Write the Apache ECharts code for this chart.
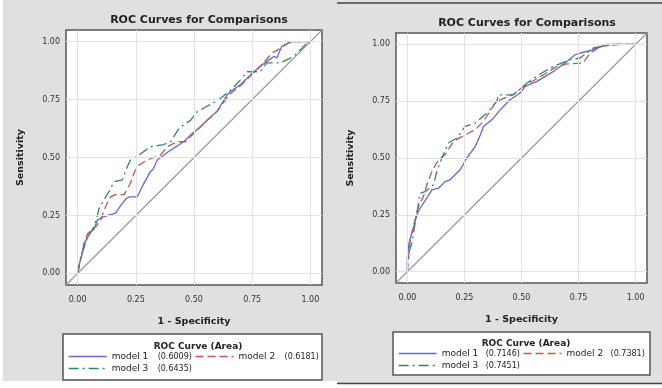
<!DOCTYPE html>
<html><head><meta charset="utf-8">
<script src="https://cdn.jsdelivr.net/npm/echarts@6/dist/echarts.min.js"></script>
<style>html,body{margin:0;padding:0;background:#fff}#c{width:662px;height:388px}</style>
</head><body><div id="c"></div>
<script>
const tickValues = [0, 0.25, 0.5, 0.75, 1];
const refLine = [[-0.05, -0.05], [1.05, 1.05]];
const modelNames = ['model 1', 'model 2', 'model 3'];
const leftAreas = ['(0.6009)', '(0.6181)', '(0.6435)'];
const rightAreas = ['(0.7146)', '(0.7381)', '(0.7451)'];

const leftModel1 = [[0,0],[0.01,0.05],[0.02,0.09],[0.027,0.13],[0.04,0.15],[0.056,0.18],[0.07,0.19],[0.085,0.23],[0.1,0.24],[0.13,0.25],[0.163,0.26],[0.19,0.3],[0.206,0.32],[0.22,0.33],[0.256,0.33],[0.28,0.38],[0.313,0.44],[0.325,0.45],[0.342,0.489],[0.4,0.532],[0.456,0.568],[0.485,0.597],[0.528,0.633],[0.557,0.662],[0.6,0.7],[0.642,0.77],[0.657,0.785],[0.7,0.815],[0.757,0.87],[0.8,0.905],[0.843,0.936],[0.857,0.93],[0.864,0.95],[0.878,0.98],[0.92,1.0],[1,1]];
const leftModel2 = [[0,0],[0.015,0.07],[0.03,0.12],[0.042,0.17],[0.06,0.19],[0.077,0.2],[0.1,0.23],[0.106,0.25],[0.125,0.3],[0.142,0.33],[0.16,0.34],[0.2,0.34],[0.227,0.39],[0.245,0.44],[0.263,0.467],[0.299,0.489],[0.356,0.51],[0.385,0.547],[0.428,0.568],[0.464,0.568],[0.485,0.59],[0.53,0.635],[0.6,0.7],[0.65,0.77],[0.7,0.81],[0.76,0.87],[0.8,0.91],[0.836,0.951],[0.853,0.96],[0.914,1.0],[1,1]];
const leftModel3 = [[0,0],[0.013,0.07],[0.04,0.15],[0.07,0.2],[0.085,0.25],[0.092,0.28],[0.113,0.316],[0.142,0.367],[0.156,0.395],[0.192,0.403],[0.213,0.46],[0.227,0.489],[0.263,0.51],[0.313,0.547],[0.37,0.556],[0.4,0.568],[0.435,0.626],[0.485,0.66],[0.514,0.698],[0.6,0.745],[0.657,0.79],[0.7,0.835],[0.728,0.87],[0.785,0.87],[0.8,0.893],[0.814,0.908],[0.87,0.908],[0.9,0.922],[0.928,0.936],[0.986,0.994],[1,1]];

const rightModel1 = [[0,0],[0,0.066],[0.007,0.125],[0.019,0.169],[0.026,0.19],[0.041,0.25],[0.056,0.28],[0.085,0.323],[0.107,0.36],[0.136,0.367],[0.165,0.396],[0.187,0.404],[0.231,0.448],[0.26,0.5],[0.297,0.55],[0.319,0.6],[0.333,0.639],[0.37,0.668],[0.407,0.712],[0.45,0.756],[0.494,0.786],[0.516,0.815],[0.568,0.837],[0.64,0.881],[0.699,0.925],[0.736,0.955],[0.758,0.962],[0.816,0.977],[0.874,1],[1,1]];
const rightModel2 = [[0,0],[0.005,0.06],[0.012,0.14],[0.026,0.198],[0.048,0.286],[0.07,0.33],[0.085,0.382],[0.107,0.44],[0.136,0.492],[0.165,0.514],[0.202,0.573],[0.253,0.602],[0.297,0.624],[0.333,0.661],[0.385,0.742],[0.407,0.756],[0.465,0.78],[0.509,0.815],[0.596,0.866],[0.655,0.903],[0.699,0.914],[0.77,0.918],[0.801,0.962],[0.845,0.99],[0.904,1],[1,1]];
const rightModel3 = [[0,0],[0,0.062],[0.019,0.125],[0.034,0.213],[0.056,0.345],[0.078,0.352],[0.114,0.382],[0.129,0.44],[0.151,0.5],[0.18,0.566],[0.217,0.588],[0.253,0.639],[0.297,0.654],[0.348,0.698],[0.392,0.749],[0.399,0.778],[0.465,0.778],[0.524,0.83],[0.589,0.874],[0.64,0.903],[0.714,0.933],[0.757,0.94],[0.816,0.984],[0.874,0.995],[0.947,1],[1,1]];

const colors = ['#6666dd', '#c45656', '#2e8676'];
const dashes = ['solid', [8, 4], [10, 4, 2, 4]];
const FONT = 'DejaVu Sans';

function makeAxis(gi, isX) {
  return {
    type: 'value', gridIndex: gi, min: -0.05, max: 1.05,
    name: isX ? '1 - Specificity' : 'Sensitivity',
    nameLocation: 'middle', nameGap: isX ? 32 : 40,
    nameTextStyle: { fontFamily: FONT, fontWeight: 'bold', fontSize: 9.5, color: '#222' },
    axisLine: { show: false },
    axisTick: { show: true, length: 4, inside: false, customValues: tickValues, lineStyle: { color: '#555', width: 1 } },
    axisLabel: { customValues: tickValues, fontFamily: FONT, fontSize: 8, color: '#333', margin: isX ? 11 : 6,
      formatter: v => Number(v).toFixed(2) },
    splitLine: { show: false }
  };
}

const series = [];
function addPanel(gi, data, prefix) {
  const gridLines = [];
  tickValues.forEach(v => { gridLines.push({ xAxis: v }); gridLines.push({ yAxis: v }); });
  series.push({ type: 'line', xAxisIndex: gi, yAxisIndex: gi, data: refLine, symbol: 'none', silent: true,
    lineStyle: { color: '#9a9a9a', width: 1.2 }, z: 2,
    markLine: { silent: true, symbol: ['none', 'none'], label: { show: false },
      lineStyle: { color: '#e2e2e2', width: 1, type: 'solid' }, emphasis: { disabled: true }, data: gridLines } });
  data.forEach((d, i) => {
    series.push({ name: prefix + i, type: 'line', xAxisIndex: gi, yAxisIndex: gi, data: d, symbol: 'none',
      lineStyle: { color: colors[i], width: 1.3, type: dashes[i] }, itemStyle: { color: colors[i] }, z: 3 });
  });
}
addPanel(0, [leftModel1, leftModel2, leftModel3], 'L');
addPanel(1, [rightModel1, rightModel2, rightModel3], 'R');

function makeLegend(prefix, areas, left, top, nW) {
  return {
    data: [0, 1, 2].map(i => prefix + i), left: left, top: top, width: 260, orient: 'horizontal',
    itemWidth: 38, itemHeight: 10, itemGap: 3, padding: 0,
    itemStyle: { opacity: 0, borderWidth: 0 },
    lineStyle: { width: 1.3 },
    formatter: name => { const i = +name.slice(1); return '{n|' + modelNames[i] + '}{v|' + areas[i] + '}'; },
    textStyle: { fontFamily: FONT, fontSize: 9, color: '#222',
      rich: { n: { fontFamily: FONT, fontSize: 9, width: nW, color: '#222' },
              v: { fontFamily: FONT, fontSize: 8, width: 38, color: '#222' } } },
    selectedMode: false
  };
}

const option = {
  backgroundColor: '#e0e0e0',
  animation: false,
  title: [
    { text: 'ROC Curves for Comparisons', left: 194, top: 10, textAlign: 'center',
      textStyle: { fontFamily: FONT, fontWeight: 'bold', fontSize: 11, color: '#222' } },
    { text: 'ROC Curves for Comparisons', left: 522, top: 13, textAlign: 'center',
      textStyle: { fontFamily: FONT, fontWeight: 'bold', fontSize: 11, color: '#222' } },
    { text: 'ROC Curve (Area)', left: 193, top: 337, textAlign: 'center',
      textStyle: { fontFamily: FONT, fontWeight: 'bold', fontSize: 9, color: '#222' } },
    { text: 'ROC Curve (Area)', left: 521, top: 334, textAlign: 'center',
      textStyle: { fontFamily: FONT, fontWeight: 'bold', fontSize: 9, color: '#222' } }
  ],
  grid: [
    { left: 66, top: 30, width: 256, height: 255, show: true, backgroundColor: '#fff', borderColor: '#555', borderWidth: 1.5 },
    { left: 396, top: 33, width: 251, height: 250, show: true, backgroundColor: '#fff', borderColor: '#555', borderWidth: 1.5 }
  ],
  xAxis: [makeAxis(0, true), makeAxis(1, true)],
  yAxis: [makeAxis(0, false), makeAxis(1, false)],
  legend: [makeLegend('L', leftAreas, 68, 352, 46), makeLegend('R', rightAreas, 398, 349, 44)],
  graphic: [
    { type: 'rect', shape: { x: 0, y: 0, width: 3, height: 388 }, style: { fill: '#fff' }, silent: true },
    { type: 'rect', shape: { x: 0, y: 381, width: 337, height: 7 }, style: { fill: '#fff' }, silent: true },
    { type: 'rect', shape: { x: 337, y: 384, width: 325, height: 4 }, style: { fill: '#fff' }, silent: true },
    { type: 'line', shape: { x1: 337, y1: 3, x2: 662, y2: 3 }, style: { stroke: '#444', lineWidth: 1.5 }, silent: true },
    { type: 'line', shape: { x1: 337, y1: 383.5, x2: 662, y2: 383.5 }, style: { stroke: '#444', lineWidth: 1.5 }, silent: true },
    { type: 'rect', shape: { x: 63, y: 334, width: 259, height: 46 }, style: { fill: '#fff', stroke: '#555', lineWidth: 1.5 }, silent: true, z: -1 },
    { type: 'rect', shape: { x: 393, y: 332, width: 257, height: 43 }, style: { fill: '#fff', stroke: '#555', lineWidth: 1.5 }, silent: true, z: -1 }
  ],
  series: series
};

const chart = echarts.init(document.getElementById('c'), null, { renderer: 'canvas' });
chart.setOption(option);
</script>
</body></html>
